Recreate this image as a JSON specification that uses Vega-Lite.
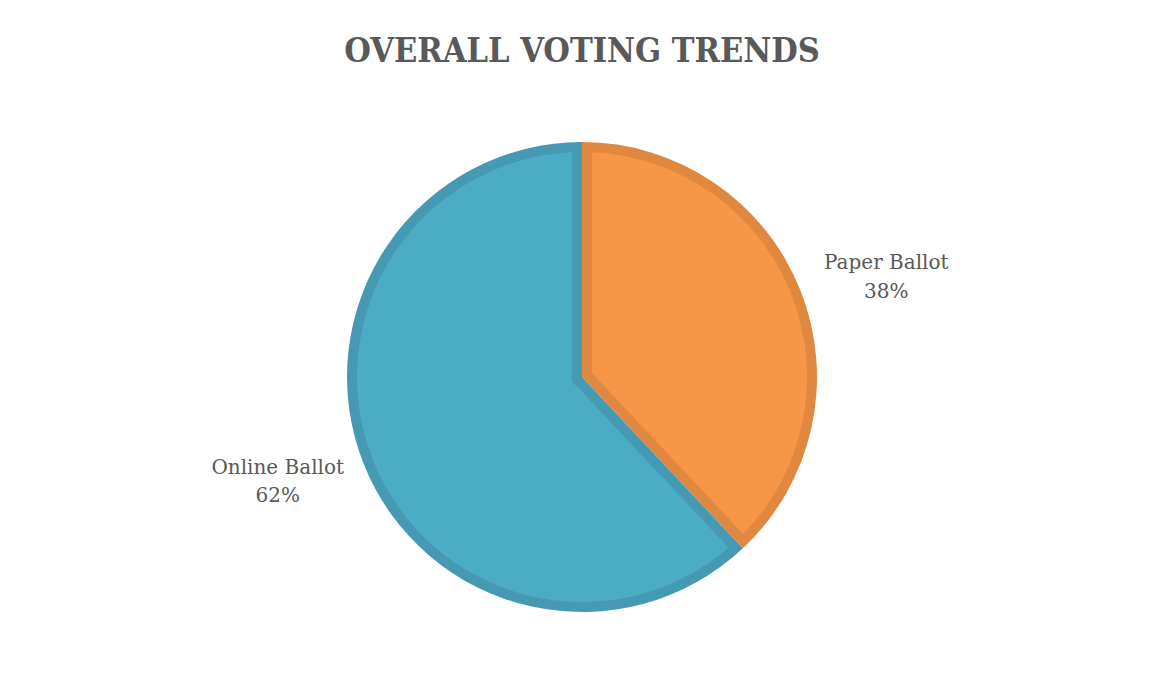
{
  "$schema": "https://vega.github.io/schema/vega-lite/v6.json",
  "width": 1153,
  "height": 674,
  "autosize": {"type": "fit", "contains": "padding"},
  "padding": {"left": 11, "top": 35, "right": 0, "bottom": 0},
  "background": "white",
  "title": {
    "text": "OVERALL VOTING TRENDS",
    "font": "DejaVu Serif Condensed",
    "fontWeight": "bold",
    "fontSize": 34,
    "color": "#595959",
    "anchor": "middle",
    "baseline": "top",
    "offset": 11
  },
  "data": {
    "values": [
      {"ballot": "Paper Ballot", "share": 0.38},
      {"ballot": "Online Ballot", "share": 0.62}
    ]
  },
  "encoding": {
    "theta": {"field": "share", "type": "quantitative", "stack": true},
    "order": {"field": "share", "type": "quantitative", "sort": "ascending"}
  },
  "layer": [
    {
      "mark": {"type": "arc", "outerRadius": 235},
      "encoding": {
        "color": {
          "field": "ballot",
          "type": "nominal",
          "scale": {"domain": ["Paper Ballot", "Online Ballot"], "range": ["#E0883F", "#4699B3"]},
          "legend": null
        }
      }
    },
    {
      "mark": {"type": "arc", "outerRadius": 225, "innerRadius": 10.75, "padAngle": 0.0888},
      "encoding": {
        "color": {
          "field": "ballot",
          "type": "nominal",
          "scale": {"domain": ["Paper Ballot", "Online Ballot"], "range": ["#F79646", "#4BACC6"]},
          "legend": null
        }
      }
    },
    {
      "mark": {"type": "text", "radius": 321, "thetaOffset": 0.053, "dy": -5.5, "font": "DejaVu Serif", "fontSize": 20, "color": "#595959", "align": "center", "baseline": "alphabetic"},
      "encoding": {"text": {"field": "ballot", "type": "nominal"}}
    },
    {
      "mark": {"type": "text", "radius": 321, "thetaOffset": 0.053, "dy": 23, "font": "DejaVu Serif", "fontSize": 20, "color": "#595959", "align": "center", "baseline": "alphabetic"},
      "encoding": {"text": {"field": "share", "type": "quantitative", "format": ".0%"}}
    }
  ],
  "resolve": {"scale": {"color": "independent"}},
  "config": {"view": {"stroke": null}}
}
